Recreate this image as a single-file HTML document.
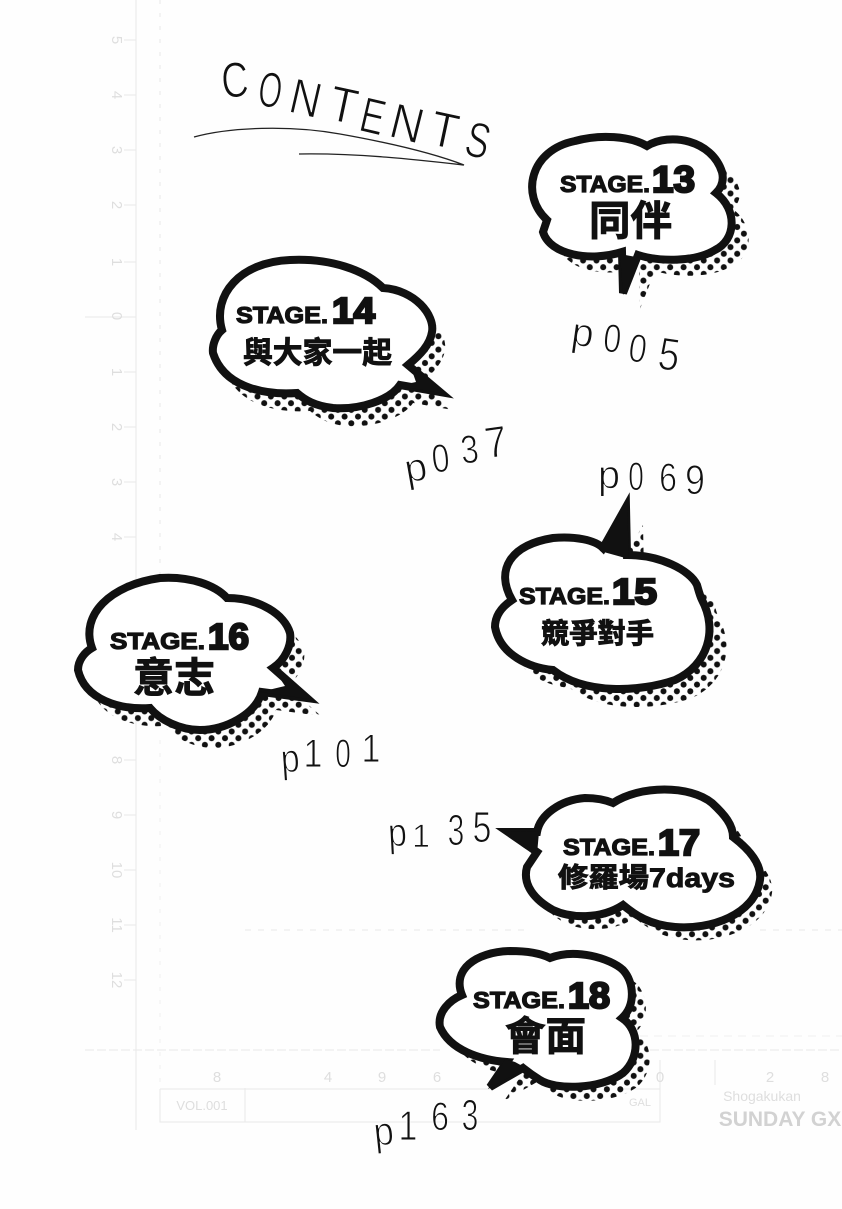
<!DOCTYPE html>
<html><head><meta charset="utf-8">
<style>
html,body{margin:0;padding:0;background:#fefefe}
svg{display:block}
.s{font-family:"Liberation Sans",sans-serif;font-weight:700;fill:#111;stroke:#111;stroke-width:1.2}
.n{font-family:"Liberation Sans",sans-serif;font-weight:700;fill:#111;stroke:#111;stroke-width:2.4}
.c{font-family:"Liberation Sans","Noto Sans CJK TC",sans-serif;font-weight:700;fill:#111;stroke:#111;stroke-width:.9}
.h{font-family:"Liberation Sans",sans-serif;fill:#111;stroke:#fefefe;stroke-width:1;text-anchor:middle}
.g{font-family:"Liberation Sans",sans-serif;fill:#dedede;text-anchor:middle;font-size:15px}
.b{fill:#fff;stroke:#111;stroke-width:8;stroke-linejoin:miter}
</style></head>
<body>
<svg width="842" height="1209" viewBox="0 0 842 1209" xmlns="http://www.w3.org/2000/svg">
<defs>
<pattern id="d" width="13.4" height="13.4" patternUnits="userSpaceOnUse">
<circle cx="3.3" cy="3.3" r="3" fill="#111"/><circle cx="10" cy="10" r="3" fill="#111"/>
</pattern>
<path id="b13" d="M547 220C520 195 530 150 575 141C600 134 630 136 647 146C670 132 712 140 722 172C724 180 722 187 716 193C738 210 736 240 715 250C695 262 660 262 638 255L623 293L622 252C590 262 550 255 543 232Z"/>
<path id="b14" d="M222 330C212 295 240 262 290 260C330 258 365 270 383 288C415 290 435 315 432 332C430 345 420 355 408 365L440 392L400 385C390 400 360 410 333 408C315 406 305 400 297 393C270 395 225 390 213 353C212 345 216 335 222 330Z"/>
<path id="b15" d="M512 600C495 570 510 545 553 538C575 536 595 540 603 548L626 507L627 555C660 555 690 570 697 585C699 592 700 596 702 600C718 630 708 665 675 680C640 692 585 695 553 670C530 668 500 655 495 627C495 615 503 606 512 600Z"/>
<path id="b16" d="M92 648C80 615 110 585 160 578C190 576 215 585 227 598C260 598 285 615 290 633C292 645 285 660 273 668L307 698L262 692C255 715 225 730 200 730C180 730 160 720 150 708C120 710 85 700 78 670C78 660 85 652 92 648Z"/>
<path id="b17" d="M508 832L537 832C540 815 560 800 585 798C597 798 606 800 613 803C640 785 690 785 712 803C725 815 733 825 733 837C750 850 762 865 760 880C755 915 710 930 675 927C650 925 635 915 623 905C600 920 570 918 553 910C535 900 522 885 527 867L537 852Z"/>
<path id="b18" d="M462 995C452 970 475 952 510 951C525 951 540 953 550 958C575 948 610 958 623 970C634 982 636 1005 622 1018C640 1030 640 1058 623 1073C600 1090 555 1090 540 1080C532 1075 528 1072 523 1068L490 1087L507 1062C480 1060 450 1050 440 1027C437 1012 450 1000 462 995Z"/>
</defs>

<!-- faint print guides -->
<g stroke="#e8e8e8" stroke-width="1" fill="none">
<path d="M136 0V1130"/>
<path d="M160 0V590" stroke-dasharray="4 9"/>
<path d="M160 740V1090" stroke-dasharray="4 9" stroke="#f0f0f0"/>
<path d="M85 1050H440M650 1050H842" stroke-dasharray="9 3"/>
<path d="M245 930H525M760 930H842" stroke-dasharray="6 7"/>
<path d="M640 1036H842" stroke-dasharray="8 6" stroke="#f0f0f0"/>
<path d="M160 1089H490M620 1089H660V1122H160V1089"/>
<path d="M85 317H136M124 40H136M124 95H136M124 150H136M124 205H136M124 262H136M124 372H136M124 427H136M124 482H136M124 537H136M124 760H136M124 815H136M124 870H136M124 925H136M124 980H136"/>
<path d="M245 1088V1122M660 1060V1122M715 1060V1085"/>
</g>
<g class="g">
<text transform="translate(112 40) rotate(90)">5</text>
<text transform="translate(112 95) rotate(90)">4</text>
<text transform="translate(112 150) rotate(90)">3</text>
<text transform="translate(112 205) rotate(90)">2</text>
<text transform="translate(112 262) rotate(90)">1</text>
<text transform="translate(112 316) rotate(90)">0</text>
<text transform="translate(112 372) rotate(90)">1</text>
<text transform="translate(112 427) rotate(90)">2</text>
<text transform="translate(112 482) rotate(90)">3</text>
<text transform="translate(112 537) rotate(90)">4</text>
<text transform="translate(112 760) rotate(90)">8</text>
<text transform="translate(112 815) rotate(90)">9</text>
<text transform="translate(112 870) rotate(90)">10</text>
<text transform="translate(112 925) rotate(90)">11</text>
<text transform="translate(112 980) rotate(90)">12</text>
<text x="217" y="1082">8</text><text x="328" y="1082">4</text><text x="382" y="1082">9</text><text x="437" y="1082">6</text>
<text x="660" y="1082">0</text><text x="770" y="1082">2</text><text x="825" y="1082">8</text>
<text x="202" y="1110" font-size="13">VOL.001</text>
<text x="640" y="1106" font-size="11">GAL</text>
<text x="762" y="1101" font-size="14">Shogakukan</text>
<text x="780" y="1126" font-size="21" font-weight="700" fill="#d2d2d2">SUNDAY GX</text>
</g>

<!-- title -->
<g class="h" font-size="50">
<text transform="translate(236 97) rotate(-4) scale(.75 1)">C</text>
<text transform="translate(268 107) rotate(8) scale(.6 1)">O</text>
<text transform="translate(302 115) rotate(13) scale(.85 1)">N</text>
<text transform="translate(340 122) rotate(12) scale(.9 1)">T</text>
<text transform="translate(369 133) rotate(13) scale(.72 1)">E</text>
<text transform="translate(403 140) rotate(14) scale(.9 1)">N</text>
<text transform="translate(441 147) rotate(12) scale(.9 1)">T</text>
<text transform="translate(474 157) rotate(14) scale(.7 1)">S</text>
</g>
<path d="M194 137C230 127 290 125 340 134C385 142 430 152 464 165C420 160 360 153 299 154" fill="none" stroke="#222" stroke-width="1.3"/>

<!-- shadows -->
<use href="#b13" x="17" y="16" fill="url(#d)"/>
<use href="#b14" x="13" y="18" fill="url(#d)"/>
<use href="#b15" x="17" y="18" fill="url(#d)"/>
<use href="#b16" x="14" y="18" fill="url(#d)"/>
<use href="#b17" x="12" y="13" fill="url(#d)"/>
<use href="#b18" x="14" y="14" fill="url(#d)"/>

<!-- bubbles -->
<use href="#b13" class="b"/><polygon points="620,254 641,258 623,295" fill="#111"/>
<use href="#b14" class="b"/><polygon points="409,362 442,393 397,386 416,382" fill="#111"/>
<use href="#b15" class="b"/><polygon points="600,551 627,505 629,559" fill="#111"/>
<use href="#b16" class="b"/><polygon points="273,668 309,699 260,692 285,686" fill="#111"/>
<use href="#b17" class="b"/><polygon points="506,831 539,832 537,854 526,845" fill="#111"/>
<use href="#b18" class="b"/><polygon points="505,1059 488,1089 526,1068 515,1062" fill="#111"/>

<!-- labels -->
<text class="s" x="560" y="192" font-size="23" textLength="90" lengthAdjust="spacingAndGlyphs">STAGE.</text>
<text class="n" x="652" y="192" font-size="37" textLength="43" lengthAdjust="spacingAndGlyphs">13</text>
<text class="c" x="589" y="235" font-size="41" textLength="83" lengthAdjust="spacingAndGlyphs">同伴</text>

<text class="s" x="236" y="323" font-size="23" textLength="92" lengthAdjust="spacingAndGlyphs">STAGE.</text>
<text class="n" x="332" y="323" font-size="36" textLength="43" lengthAdjust="spacingAndGlyphs">14</text>
<text class="c" x="243" y="363" font-size="30" textLength="149" lengthAdjust="spacingAndGlyphs">與大家一起</text>

<text class="s" x="519" y="604" font-size="23" textLength="91" lengthAdjust="spacingAndGlyphs">STAGE.</text>
<text class="n" x="612" y="604" font-size="36" textLength="45" lengthAdjust="spacingAndGlyphs">15</text>
<text class="c" x="541" y="643" font-size="28" textLength="113" lengthAdjust="spacingAndGlyphs">競爭對手</text>

<text class="s" x="110" y="649" font-size="23" textLength="95" lengthAdjust="spacingAndGlyphs">STAGE.</text>
<text class="n" x="208" y="649" font-size="36" textLength="41" lengthAdjust="spacingAndGlyphs">16</text>
<text class="c" x="133" y="692" font-size="41" textLength="82" lengthAdjust="spacingAndGlyphs">意志</text>

<text class="s" x="563" y="855" font-size="23" textLength="92" lengthAdjust="spacingAndGlyphs">STAGE.</text>
<text class="n" x="658" y="855" font-size="36" textLength="42" lengthAdjust="spacingAndGlyphs">17</text>
<text class="c" x="558" y="887" font-size="27" textLength="177" lengthAdjust="spacingAndGlyphs">修羅場7days</text>

<text class="s" x="473" y="1008" font-size="23" textLength="92" lengthAdjust="spacingAndGlyphs">STAGE.</text>
<text class="n" x="568" y="1008" font-size="36" textLength="42" lengthAdjust="spacingAndGlyphs">18</text>
<text class="c" x="505" y="1050" font-size="40" textLength="81" lengthAdjust="spacingAndGlyphs">會面</text>

<!-- page numbers -->
<g class="h" font-size="40">
<text transform="translate(581 346) rotate(8)">p</text><text transform="translate(611 352) rotate(6) scale(.8 1)">0</text><text transform="translate(636 362) rotate(8) scale(.8 1)">0</text><text transform="translate(667 370) rotate(8) scale(.95 1.15)">5</text>

<text transform="translate(418 481) rotate(-10)">p</text><text transform="translate(442 472) rotate(-6) scale(.8 1)">0</text><text transform="translate(471 463) rotate(-6) scale(.8 1)">3</text><text transform="translate(498 457) rotate(-8) scale(1 1.1)">7</text>

<text transform="translate(609 488)">p</text><text transform="translate(636 490) scale(.7 1)">0</text><text transform="translate(668 491) scale(.8 1)">6</text><text transform="translate(695 494) scale(.9 1.05)">9</text>

<text transform="translate(291 772) rotate(-4) scale(.85 1)">p</text><text transform="translate(313 767) scale(.85 1)">1</text><text transform="translate(343 767) scale(.7 1)">0</text><text transform="translate(371 762) scale(.85 1)">1</text>

<text transform="translate(398 846) rotate(-3) scale(.85 1)">p</text><text transform="translate(421 847) scale(.8 .8)">1</text><text transform="translate(456 845) scale(.75 1.1)">3</text><text transform="translate(482 842) scale(.85 1.1)">5</text>

<text transform="translate(385 1145) rotate(-6) scale(.9 1)">p</text><text transform="translate(408 1140) scale(.85 1.05)">1</text><text transform="translate(440 1130) scale(.8 1)">6</text><text transform="translate(470 1130) scale(.75 1.1)">3</text>
</g>
</svg>
</body></html>
